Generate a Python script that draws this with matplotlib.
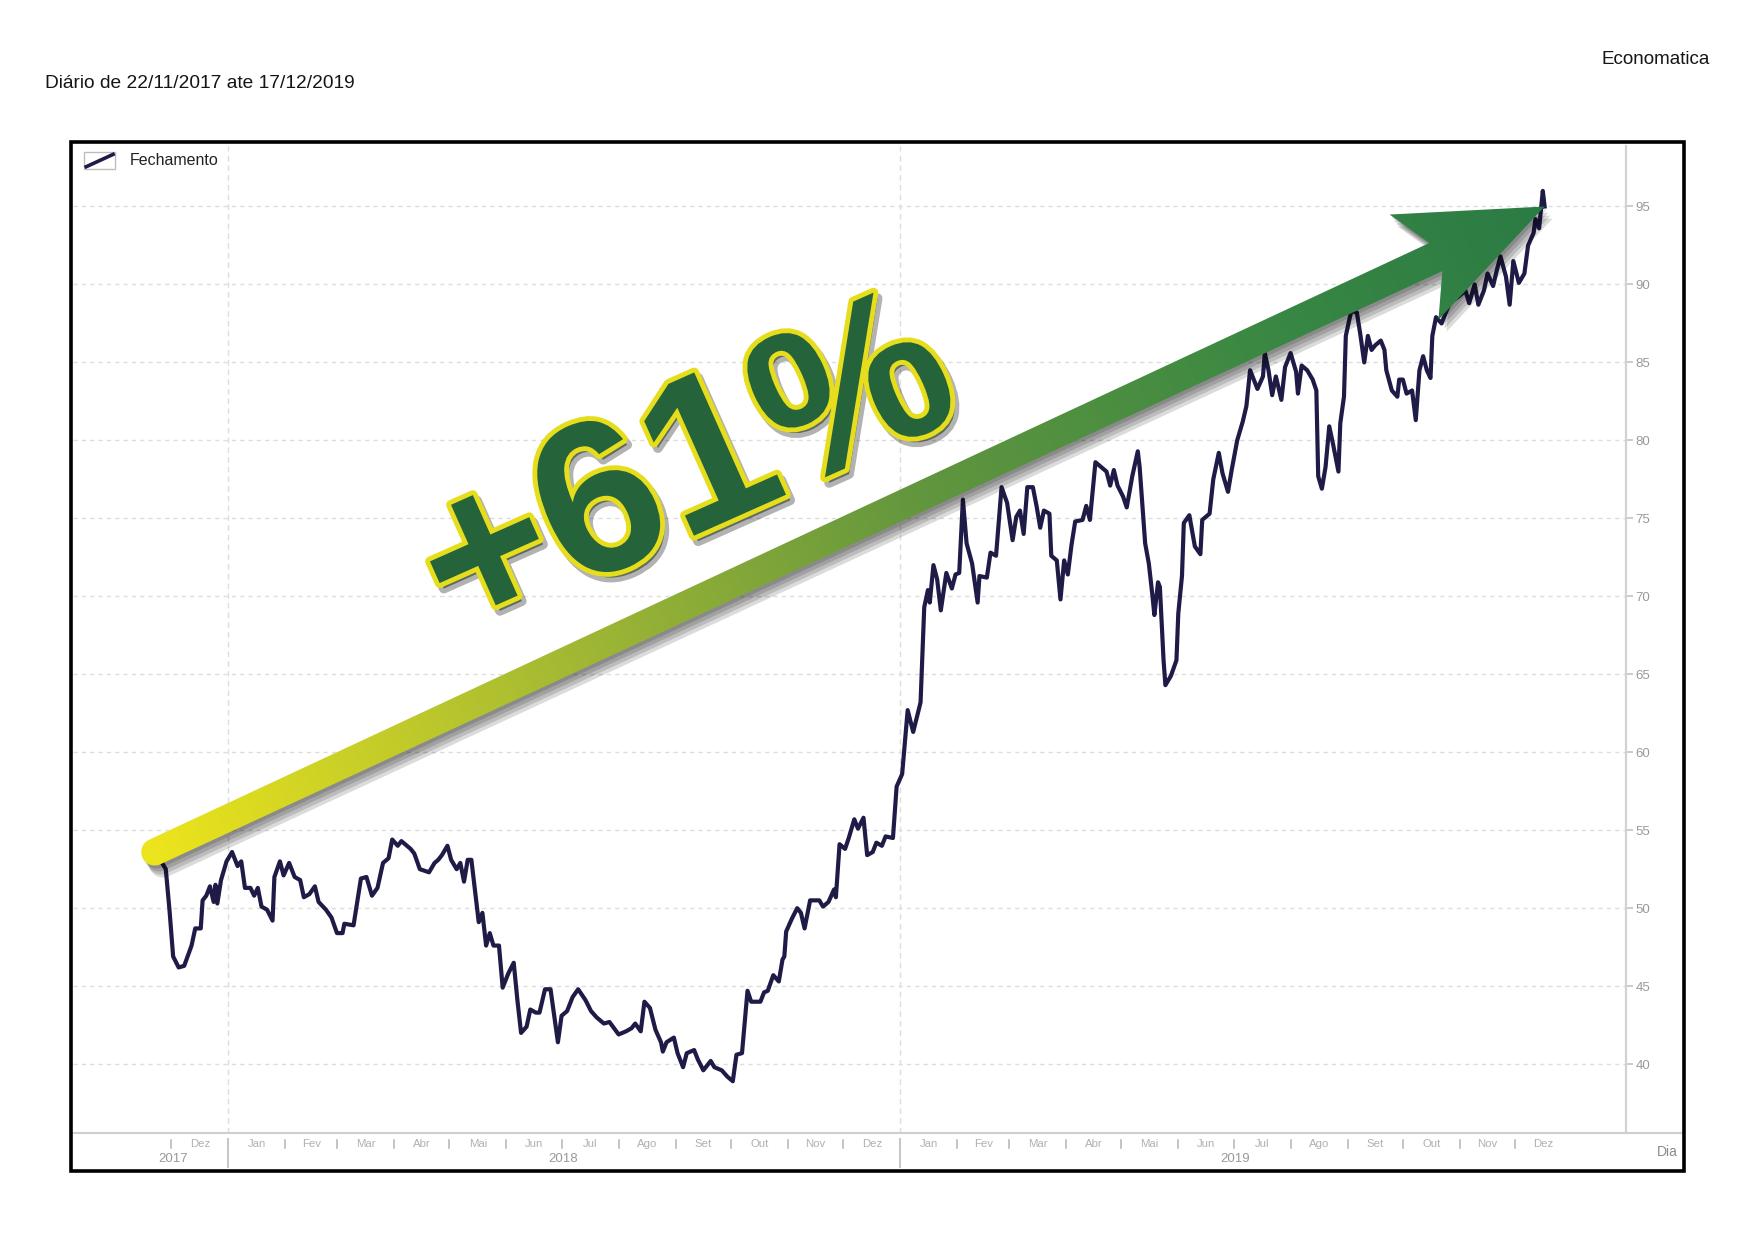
import numpy as np
import pandas as pd
import matplotlib
matplotlib.use('Agg')
import matplotlib.pyplot as plt
import matplotlib.dates as mdates
import matplotlib.patheffects as pe
from matplotlib.patches import Polygon, Rectangle
from matplotlib.lines import Line2D
from matplotlib.colors import LinearSegmentedColormap

plt.rcParams['font.family'] = ['Liberation Sans', 'DejaVu Sans']

# closing prices (day = days after 1 Jan 2018)
day = [-40, -37, -34, -32, -30, -27, -24, -20, -18, -15, -14, -12, -10, -8, -7, -6, -4, -1,
       2, 5, 7, 9, 12, 14, 16, 18, 21, 24, 25, 28, 30, 33, 36, 39, 41, 44, 47, 49, 53, 56,
       59, 62, 63, 68, 72, 75, 78, 81, 84, 87, 89, 92, 94, 99, 101, 104, 109, 112, 114, 116,
       119, 121, 124, 126, 128, 130, 132, 135, 136, 138, 140, 142, 144, 147, 149, 152, 155,
       157, 159, 162, 164, 167, 169, 172, 175, 177, 179, 181, 184, 187, 190, 194, 197, 200,
       204, 207, 212, 216, 219, 221, 224, 226, 229, 232, 235, 236, 238, 242, 244, 247, 249,
       253, 255, 258, 262, 264, 268, 271, 274, 276, 279, 282, 284, 289, 291, 293, 296, 299,
       301, 302, 303, 306, 309, 311, 313, 316, 321, 323, 326, 329, 330, 332, 335, 337, 340,
       342, 345, 347, 350, 352, 355, 357, 361, 363, 366, 369, 372, 376, 378, 380, 381, 383,
       385, 387, 390, 393, 395, 397, 399, 401, 404, 407, 408, 412, 414, 417, 420, 423, 426,
       428, 430, 432, 434, 437, 439, 441, 443, 446, 447, 450, 452, 454, 456, 458, 460, 464,
       466, 468, 471, 474, 477, 479, 481, 483, 486, 488, 491, 494, 495, 498, 500, 502, 503,
       505, 506, 508, 509, 512, 515, 516, 518, 519, 522, 525, 528, 529, 533, 535, 538, 540,
       543, 545, 548, 551, 553, 555, 559, 562, 563, 565, 567, 569, 572, 574, 577, 580, 581,
       583, 586, 589, 591, 592, 594, 596, 598, 600, 603, 604, 606, 607, 609, 610, 613, 615,
       617, 619, 621, 623, 626, 628, 629, 632, 635, 636, 638, 640, 643, 645, 647, 649, 651,
       653, 654, 656, 659, 662, 664, 668, 672, 674, 677, 679, 682, 684, 687, 689, 691, 694,
       696, 698, 701, 704, 706, 709, 710, 712, 714, 715]
close = [53.6, 53.1, 52.5, 49.9, 46.9, 46.2, 46.3, 47.6, 48.7, 48.7, 50.5, 50.8, 51.4, 50.4,
         51.5, 50.3, 51.8, 53.0, 53.6, 52.7, 53.0, 51.3, 51.3, 50.8, 51.3, 50.1, 49.9, 49.2,
         52.0, 53.0, 52.1, 52.9, 52.0, 51.8, 50.7, 50.9, 51.4, 50.4, 49.9, 49.4, 48.4, 48.4,
         49.0, 48.9, 51.9, 52.0, 50.8, 51.3, 52.9, 53.2, 54.4, 54.0, 54.3, 53.8, 53.5, 52.5,
         52.3, 52.9, 53.1, 53.4, 54.0, 53.1, 52.5, 52.9, 51.7, 53.1, 53.1, 50.1, 49.1, 49.7,
         47.6, 48.4, 47.6, 47.6, 44.9, 45.8, 46.5, 44.1, 42.0, 42.4, 43.5, 43.3, 43.3, 44.8,
         44.8, 43.1, 41.4, 43.1, 43.4, 44.3, 44.8, 44.1, 43.4, 43.0, 42.6, 42.7, 41.9, 42.1,
         42.3, 42.6, 42.1, 44.0, 43.6, 42.2, 41.4, 40.8, 41.4, 41.7, 40.7, 39.8, 40.7, 40.9,
         40.3, 39.6, 40.2, 39.8, 39.6, 39.2, 38.9, 40.6, 40.7, 44.7, 44.0, 44.0, 44.6, 44.7,
         45.7, 45.3, 46.7, 46.9, 48.5, 49.3, 50.0, 49.7, 48.7, 50.5, 50.5, 50.1, 50.4, 51.2,
         50.7, 54.1, 53.8, 54.5, 55.7, 55.1, 55.8, 53.4, 53.6, 54.2, 54.0, 54.6, 54.5, 57.8,
         58.6, 62.7, 61.3, 63.2, 69.3, 70.4, 69.6, 72.0, 71.1, 69.1, 71.5, 70.5, 71.4, 71.5,
         76.2, 73.4, 72.1, 69.6, 71.3, 71.2, 72.8, 72.6, 77.0, 76.0, 73.6, 75.1, 75.5, 74.0,
         77.0, 77.0, 75.8, 74.4, 75.5, 75.3, 72.6, 72.3, 69.8, 72.3, 71.4, 73.3, 74.8, 74.9,
         75.8, 74.9, 78.6, 78.3, 78.0, 77.1, 78.1, 77.1, 76.4, 75.7, 77.7, 79.3, 78.3, 73.4,
         72.1, 70.0, 68.8, 70.9, 70.6, 65.9, 64.3, 64.9, 65.9, 68.9, 71.3, 74.7, 75.2, 73.2,
         72.7, 74.9, 75.3, 77.5, 79.2, 77.9, 76.7, 78.1, 80.0, 81.2, 82.2, 84.5, 83.3, 84.1,
         85.6, 84.5, 82.9, 84.1, 82.6, 84.7, 85.6, 84.4, 83.0, 84.8, 84.5, 83.9, 83.2, 77.7,
         76.9, 78.3, 80.9, 79.8, 78.0, 81.1, 82.8, 86.7, 87.8, 88.3, 88.2, 86.7, 85.0, 86.7,
         85.8, 86.1, 86.4, 85.8, 84.5, 83.2, 82.8, 83.9, 83.9, 83.0, 83.2, 81.3, 84.5, 85.4,
         84.5, 84.0, 86.7, 87.9, 87.5, 88.4, 88.9, 89.2, 89.6, 88.8, 90.0, 88.7, 89.6, 90.7,
         89.9, 90.9, 91.8, 90.5, 88.7, 91.5, 90.1, 90.7, 92.5, 93.3, 94.2, 93.6, 96.0, 95.0]
dates = pd.Timestamp('2018-01-01') + pd.to_timedelta(day, unit='D')

month_names = ['Jan', 'Fev', 'Mar', 'Abr', 'Mai', 'Jun', 'Jul', 'Ago', 'Set', 'Out', 'Nov', 'Dez']
y_ticks = [40, 45, 50, 55, 60, 65, 70, 75, 80, 85, 90, 95]
year_labels = ['2017', '2018', '2019']
year_label_dates = ['2017-12-02', '2018-07-02', '2019-07-02']
header = 'Diário de 22/11/2017 ate 17/12/2019'
source = 'Economatica'
series_name = 'Fechamento'
gain_label = '+61%'

NAVY = '#1f1b47'
W, H = 1755, 1241

fig = plt.figure(figsize=(W / 100, H / 100), dpi=100)
fig.patch.set_facecolor('white')
ax = fig.add_axes([73 / W, 1 - 1133 / H, (1626 - 73) / W, (1133 - 146) / H])

ax.plot(dates, close, color=NAVY, lw=3.0, solid_joinstyle='round', zorder=3, label=series_name)

ref = mdates.date2num(pd.Timestamp('2018-01-01'))
ax.set_xlim(ref - 84.4, ref + 759.2)
ax.set_ylim(35.58, 98.88)

for s in ['top', 'left', 'bottom']:
    ax.spines[s].set_visible(False)
ax.spines['right'].set_color('#d2d2d2')
ax.spines['right'].set_linewidth(1.6)

ax.yaxis.tick_right()
ax.set_yticks(y_ticks)
ax.tick_params(axis='y', length=5, width=1.4, color='#cccccc', labelcolor='#999999',
               labelsize=9.5, pad=2)
ax.set_xticks([])

# grid
for yv in y_ticks:
    ax.axhline(yv, color='#dddddd', lw=1, ls=(0, (3, 3)), zorder=1)
for yr in ['2018-01-01', '2019-01-01']:
    ax.axvline(pd.Timestamp(yr), color='#dddddd', lw=1, ls=(0, (4, 3)), zorder=1)

# month / year axis underneath
xt = ax.get_xaxis_transform()
mstarts = pd.date_range('2017-12-01', '2020-01-01', freq='MS')
for m0, m1 in zip(mstarts[:-1], mstarts[1:]):
    if m0.month == 1:
        ax.plot([m0, m0], [-0.006, -0.0345], transform=xt, color='#c8c8c8', lw=1.5, clip_on=False)
    else:
        ax.plot([m0, m0], [-0.007, -0.0152], transform=xt, color='#b4b4b4', lw=1.1, clip_on=False)
    mid = m0 + (m1 - m0) / 2
    ax.text(mid, -0.0111, month_names[m0.month - 1], transform=xt, ha='center', va='center',
            fontsize=8.2, color='#b0b0b0')
for lab, dt in zip(year_labels, year_label_dates):
    ax.text(pd.Timestamp(dt), -0.0265, lab, transform=xt, ha='center', va='center',
            fontsize=9.5, color='#9a9a9a')

fig.add_artist(Line2D([73 / W, 1682 / W], [1 - 1133 / H] * 2, color='#cfcfcf', lw=1.5))
fig.text(1678 / W, 1 - 1152 / H, 'Dia', ha='right', va='center', fontsize=10, color='#8a8a8a')

# frame
fig.add_artist(Rectangle((71 / W, 1 - 1171 / H), 1613 / W, 1029 / H, fill=False,
                         ec='black', lw=2.6, transform=fig.transFigure, zorder=10))

# titles
fig.text(45 / W, 1 - 83 / H, header, ha='left', va='center', fontsize=13.8, color='#151515')
fig.text(1710 / W, 1 - 60 / H, source, ha='right', va='center', fontsize=13.5, color='#151515')

# legend
ax.add_patch(Rectangle((0.0071, 0.9767), 0.0200, 0.0172, transform=ax.transAxes,
                       fill=False, ec='#bdbdbd', lw=1))
ax.add_line(Line2D([0.0085, 0.0258], [0.9790, 0.9915], transform=ax.transAxes, color=NAVY, lw=2.6))
ax.text(0.0367, 0.9851, series_name, transform=ax.transAxes, va='center', ha='left',
        fontsize=11.5, color='#222222')

# big arrow from first to last close
ov = fig.add_axes([0, 0, 1, 1])
ov.axis('off')
p0 = ax.transData.transform((mdates.date2num(dates[0]), close[0]))
p1 = ax.transData.transform((mdates.date2num(dates[-1]), close[-1]))
L = np.hypot(*(p1 - p0))
u = (p1 - p0) / L
n = np.array([u[1], -u[0]])
w0, wn = 13.5, 15.5
c = p1 - 120 * u
th = np.linspace(0, np.pi, 30)
cap = [p0 + w0 * (np.cos(t) * n - np.sin(t) * u) for t in th]
pts = cap + [c - wn * n, p1 - 144 * u - 58 * n, p1, p1 - 144 * u + 58 * n, c + wn * n]
pts = np.array(pts)

for dx, dy in [(2, -3), (4, -6), (6, -9), (8, -12)]:
    ov.add_patch(Polygon(pts + [dx, dy], closed=True, fc='black', ec='none', alpha=0.14, zorder=4))

arrow = Polygon(pts, closed=True, fc='none', ec='none', zorder=5)
ov.add_patch(arrow)
gx0, gy0 = pts.min(axis=0) - 2
gx1, gy1 = pts.max(axis=0) + 2
gx, gy = np.meshgrid(np.linspace(gx0, gx1, 500), np.linspace(gy0, gy1, 250))
tt = np.clip(((gx - p0[0]) * u[0] + (gy - p0[1]) * u[1]) / L, 0, 1)
cmap = LinearSegmentedColormap.from_list('arrow', [(0, '#ece41c'), (0.3, '#a2b834'), (0.55, '#62963e'),
                                                   (0.8, '#3a8843'), (1, '#2b7b45')])
im = ov.imshow(tt, extent=(gx0, gx1, gy0, gy1), origin='lower', cmap=cmap, vmin=0, vmax=1,
               aspect='auto', zorder=5, interpolation='bilinear')
im.set_clip_path(arrow)
ov.set_xlim(0, W)
ov.set_ylim(0, H)

# +61% label
tx, ty = ax.transData.transform((ref + 250, 77.7))
ov.text(tx, ty, gain_label, rotation=24, rotation_mode='anchor', ha='center', va='center',
        fontsize=156, fontweight='bold', color='#25633a', zorder=6,
        path_effects=[pe.SimplePatchShadow(offset=(3, -4), shadow_rgbFace='black', alpha=0.3),
                      pe.Stroke(offset=(3, -4), linewidth=7, foreground='black', alpha=0.3),
                      pe.Stroke(linewidth=7, foreground='#e6dd1c'),
                      pe.Normal()])

fig.savefig('out.png', dpi=100, facecolor='white')
